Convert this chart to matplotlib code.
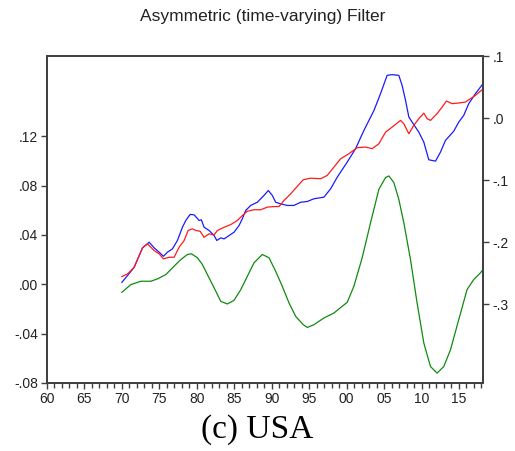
import matplotlib
matplotlib.use("Agg")
import matplotlib.pyplot as plt
from matplotlib.ticker import MultipleLocator

# values (years as decimal dates)
blue_years = [1970.0, 1970.75, 1971.64, 1972.75, 1973.64, 1974.31, 1974.97, 1975.55, 1976.08,
              1976.75, 1977.41, 1978.08, 1978.53, 1979.11, 1979.64, 1980.31, 1980.61, 1980.97,
              1981.64, 1982.31, 1982.67, 1983.2, 1983.64, 1984.31, 1984.97, 1985.64, 1986.08,
              1986.53, 1987.2, 1988.08, 1988.97, 1989.55, 1990.08, 1990.53, 1991.2, 1992.08,
              1992.97, 1993.87, 1994.75, 1995.64, 1996.97, 1997.87, 1998.75, 2000.08, 2001.2,
              2002.31, 2003.64, 2004.53, 2005.41, 2006.08, 2006.97, 2007.41, 2007.87, 2008.31,
              2008.75, 2009.64, 2010.31, 2010.97, 2011.87, 2012.53, 2013.2, 2014.31, 2014.97,
              2015.64, 2016.31, 2017.2, 2017.87, 2018.2]
blue_vals = [0.0016, 0.0071, 0.0138, 0.0295, 0.0341, 0.0295, 0.0260, 0.0227, 0.0260,
             0.0287, 0.0355, 0.0462, 0.0517, 0.0566, 0.0563, 0.0517, 0.0523, 0.0462,
             0.0436, 0.0395, 0.0355, 0.0376, 0.0368, 0.0395, 0.0422, 0.0476, 0.0531,
             0.0598, 0.0639, 0.0665, 0.0720, 0.0760, 0.0720, 0.0665, 0.0652, 0.0639,
             0.0639, 0.0665, 0.0671, 0.0693, 0.0706, 0.0774, 0.0868, 0.0990, 0.1099,
             0.1247, 0.1407, 0.1545, 0.1693, 0.1699, 0.1693, 0.1612, 0.1490, 0.1355,
             0.1314, 0.1233, 0.1152, 0.1009, 0.0998, 0.1071, 0.1166, 0.1241, 0.1314,
             0.1369, 0.1464, 0.1545, 0.1598, 0.1625]

red_years = [1970.0, 1970.75, 1971.64, 1972.75, 1973.41, 1974.31, 1974.97, 1975.55, 1976.31,
             1976.97, 1977.64, 1978.31, 1978.84, 1979.41, 1979.87, 1980.44, 1980.97, 1981.64,
             1982.31, 1982.75, 1983.64, 1984.53, 1985.41, 1986.08, 1986.75, 1987.64, 1988.53,
             1989.41, 1990.31, 1990.97, 1991.64, 1992.53, 1993.41, 1994.21, 1995.2, 1996.53,
             1997.41, 1999.2, 2000.31, 2001.41, 2002.53, 2003.41, 2004.31, 2005.2, 2006.21,
             2007.2, 2007.64, 2008.31, 2008.97, 2009.64, 2010.31, 2010.75, 2011.2, 2012.08,
             2012.75, 2013.33, 2014.08, 2014.97, 2015.87, 2016.53, 2017.2, 2017.87, 2018.2]
red_vals = [0.0062, 0.0084, 0.0138, 0.0295, 0.0328, 0.0273, 0.0247, 0.0206, 0.0219,
            0.0219, 0.0300, 0.0355, 0.0436, 0.0450, 0.0436, 0.0430, 0.0381, 0.0409,
            0.0400, 0.0436, 0.0462, 0.0484, 0.0517, 0.0557, 0.0592, 0.0604, 0.0604,
            0.0625, 0.0630, 0.0630, 0.0679, 0.0733, 0.0793, 0.0847, 0.0860, 0.0855,
            0.0882, 0.1017, 0.1058, 0.1107, 0.1112, 0.1099, 0.1139, 0.1233, 0.1280,
            0.1328, 0.1301, 0.1220, 0.1288, 0.1342, 0.1387, 0.1342, 0.1328, 0.1383,
            0.1436, 0.1485, 0.1464, 0.1469, 0.1477, 0.1504, 0.1531, 0.1566, 0.1580]

green_years = [1970.0, 1971.2, 1972.53, 1973.87, 1974.75, 1975.87, 1976.75, 1977.87, 1978.75,
               1979.28, 1980.08, 1980.75, 1981.41, 1982.21, 1983.2, 1984.08, 1984.97, 1985.87,
               1986.75, 1987.64, 1988.75, 1989.64, 1990.53, 1991.41, 1992.31, 1993.2, 1994.21,
               1994.75, 1995.64, 1996.97, 1998.31, 2000.08, 2000.97, 2002.08, 2003.2, 2004.31,
               2005.2, 2005.64, 2006.31, 2006.97, 2007.64, 2008.53, 2009.41, 2010.31, 2011.2,
               2012.08, 2012.97, 2013.87, 2014.97, 2016.08, 2016.97, 2017.87, 2018.2]
green_vals = [-0.2806, -0.2682, -0.2628, -0.2628, -0.2590, -0.2520, -0.2412, -0.2278, -0.2197,
              -0.2186, -0.2250, -0.2359, -0.2520, -0.2709, -0.2952, -0.2994, -0.2935, -0.2763,
              -0.2548, -0.2331, -0.2197, -0.2250, -0.2467, -0.2709, -0.2977, -0.3194, -0.3328,
              -0.3372, -0.3328, -0.3220, -0.3139, -0.2968, -0.2709, -0.2250, -0.1685, -0.1147,
              -0.0958, -0.0932, -0.1039, -0.1309, -0.1685, -0.2278, -0.2977, -0.3624, -0.4002,
              -0.4108, -0.4002, -0.3732, -0.3247, -0.2763, -0.2601, -0.2493, -0.2440]

left_ticks = [-0.08, -0.04, 0.0, 0.04, 0.08, 0.12]
left_labels = ["-.08", "-.04", ".00", ".04", ".08", ".12"]
right_ticks = [-0.3, -0.2, -0.1, 0.0, 0.1]
right_labels = ["-.3", "-.2", "-.1", ".0", ".1"]
x_ticks = list(range(1960, 2020, 5))
x_labels = ["60", "65", "70", "75", "80", "85", "90", "95", "00", "05", "10", "15"]

plt.rcParams["font.family"] = ["Liberation Sans", "DejaVu Sans"]
spine_col = "#404040"
text_col = "#222222"

fig = plt.figure(figsize=(5.15, 4.51), dpi=100)
ax = fig.add_axes([47 / 515, 1 - 383 / 451, (483.3 - 47) / 515, (383 - 56) / 451])
ax2 = ax.twinx()

ax.plot(blue_years, blue_vals, color="#1a1aff", lw=0.9)
ax.plot(red_years, red_vals, color="#ff1a1a", lw=0.9)
ax2.plot(green_years, green_vals, color="#108a10", lw=0.9)

ax.set_xlim(1960, 2018.25)
ax.set_ylim(-0.08, 0.185)
ax2.set_ylim(-0.4267, 0.1)

ax.set_xticks(x_ticks)
ax.set_xticklabels(x_labels)
ax.xaxis.set_minor_locator(MultipleLocator(1))
ax.set_yticks(left_ticks)
ax.set_yticklabels(left_labels)
ax2.set_yticks(right_ticks)
ax2.set_yticklabels(right_labels)

for a in (ax, ax2):
    for s in a.spines.values():
        s.set_color(spine_col)
        s.set_linewidth(1.3)
    a.tick_params(which="major", direction="out", length=4.5, width=1.0,
                  color=spine_col, labelsize=10, labelcolor=text_col, pad=2)
    a.tick_params(which="minor", direction="out", length=3.5, width=1.0, color=spine_col)
ax.tick_params(axis="y", which="minor", left=False)

fig.text(0.511, 1 - 17 / 451, "Asymmetric (time-varying) Filter", ha="center", va="center",
         fontsize=12.5, color=text_col)
fig.text(0.5, 1 - 430 / 451, "(c) USA", ha="center", va="center",
         fontsize=24, family=["Liberation Serif", "DejaVu Serif"], color="black")

fig.savefig("out.png", dpi=100)
